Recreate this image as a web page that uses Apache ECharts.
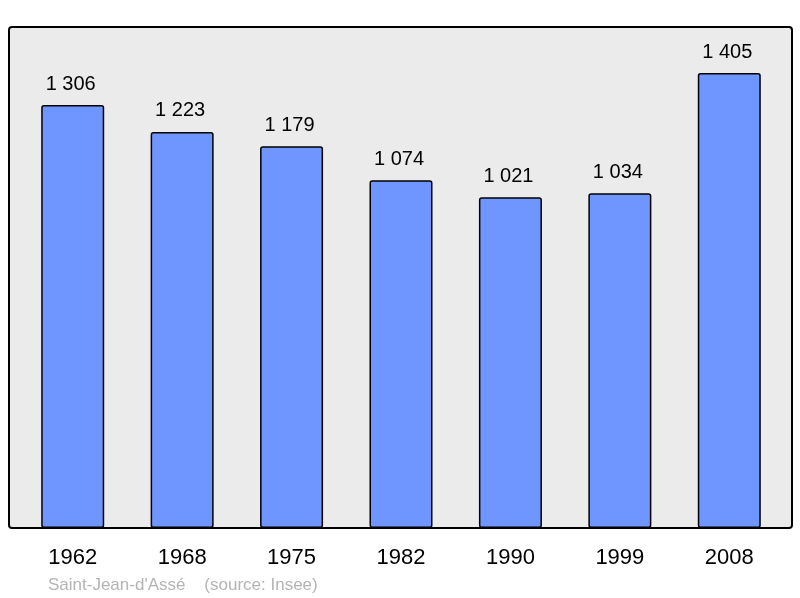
<!DOCTYPE html>
<html>
<head>
<meta charset="utf-8">
<script src="https://cdn.jsdelivr.net/npm/echarts@6/dist/echarts.min.js"></script>
<style>
  html, body { margin: 0; padding: 0; background: #fff; }
  #chart { width: 800px; height: 598px; }
</style>
</head>
<body>
<div id="chart"></div>
<script>
const years = ['1962', '1968', '1975', '1982', '1990', '1999', '2008'];
const population = [1306, 1223, 1179, 1074, 1021, 1034, 1405];
const commune = "Saint-Jean-d'Assé";
const source = '(source: Insee)';

const fmt = v => String(v).replace(/\B(?=(\d{3})+(?!\d))/g, ' ');
const font = '"Liberation Sans", Arial, sans-serif';

const chart = echarts.init(document.getElementById('chart'));
chart.setOption({
  animation: false,
  backgroundColor: '#ffffff',
  graphic: [
    {
      type: 'rect', z: -10, silent: true,
      shape: { x: 9, y: 27, width: 783, height: 501, r: 3 },
      style: { fill: '#ebebeb', stroke: '#000', lineWidth: 2 }
    },
    {
      type: 'text', left: 48, top: 577,
      style: { text: commune + '    ' + source, fill: '#b4b4b4', font: '17px ' + font }
    }
  ],
  grid: { left: 18, right: 16, top: 27, bottom: 70 },
  xAxis: {
    type: 'category',
    data: years,
    axisLine: { show: false },
    axisTick: { show: false },
    axisLabel: { color: '#000', fontSize: 22, fontFamily: font, margin: 19 }
  },
  yAxis: {
    type: 'value', min: 0, max: 1547,
    show: false, splitLine: { show: false }
  },
  series: [{
    type: 'bar',
    data: population,
    barWidth: 63,
    itemStyle: { color: '#6f96ff', borderColor: '#000', borderWidth: 1.5, borderRadius: 2 },
    label: {
      show: true, position: 'top', distance: 11, offset: [-2, 0],
      color: '#000', fontSize: 20, fontFamily: font,
      formatter: p => fmt(p.value)
    }
  }]
});
</script>
</body>
</html>
